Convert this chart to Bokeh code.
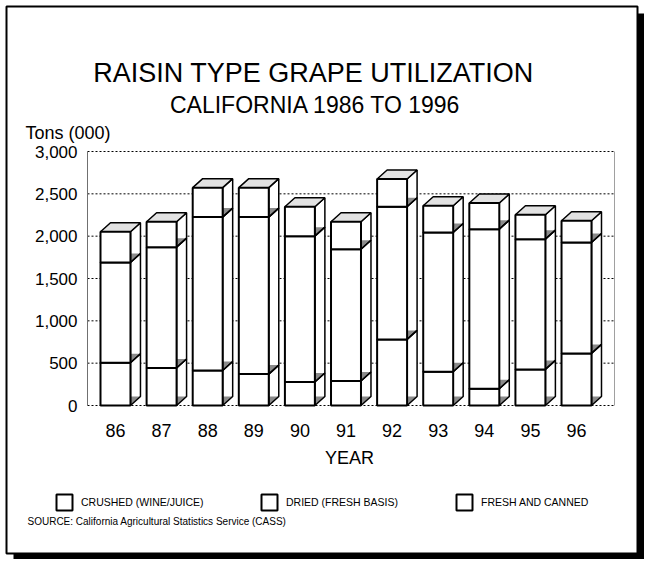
from bokeh.plotting import figure
from bokeh.models import ColumnDataSource, Range1d, Legend, LegendItem
from bokeh.core.properties import value
from bokeh.embed import file_html
from bokeh.resources import INLINE

# ---------------- data (thousand tons) ----------------
years = ["86", "87", "88", "89", "90", "91", "92", "93", "94", "95", "96"]
crushed = [505, 443, 414, 371, 277, 289, 781, 399, 198, 426, 615]
dried = [1184, 1427, 1811, 1854, 1723, 1557, 1567, 1645, 1885, 1539, 1310]
fresh = [363, 300, 348, 348, 348, 324, 327, 316, 308, 288, 257]
series_names = ["CRUSHED (WINE/JUICE)", "DRIED (FRESH BASIS)", "FRESH AND CANNED"]
y_ticks = [0, 500, 1000, 1500, 2000, 2500, 3000]

# ---------------- layout (canvas pixels) ----------------
FONT = "Liberation Sans"
W, H = 644, 559
PL, PR, PT, PB = 87, 614, 151, 405        # plot area inside the canvas
X_LO, X_HI = -0.607, 10.824                # data x shown across the plot area
Y_MAX = 3000
ppx = (PR - PL) / (X_HI - X_LO)
ppy = (PB - PT) / Y_MAX


def X(px):
    return X_LO + (px - PL) / ppx


def Y(py):
    return (PB - py) / ppy


p = figure(width=W, height=H, output_backend="svg", toolbar_location=None,
           x_range=Range1d(X(0), X(W)), y_range=Range1d(Y(H), Y(0)),
           x_axis_location=None, y_axis_location=None, min_border=0)
p.outline_line_color = None
p.background_fill_color = "white"
p.border_fill_color = "white"
p.xgrid.visible = False
p.ygrid.visible = False

# ---------------- grid & plot frame ----------------
p.segment(x0=[X(PL)] * len(y_ticks), x1=[X(PR)] * len(y_ticks), y0=y_ticks, y1=y_ticks,
          line_color="black", line_width=1, line_dash="2 2")
p.segment(x0=[X(PL), X(PR)], x1=[X(PL), X(PR)], y0=[0, 0], y1=[Y_MAX, Y_MAX],
          line_color=["#707070", "#a0a0a0"], line_width=1)

# ---------------- 3-D stacked bars ----------------
half = 0.325
dx, dy = 10 / ppx, 9 / ppy
series = [crushed, dried, fresh]
xi = list(range(len(years)))

side_xs, side_ys, tri_xs, tri_ys = [], [], [], []
top_xs, top_ys = [], []
front_sources = []
base = [0] * len(years)
for vals in series:
    lefts, rights, bots, tops = [], [], [], []
    for i, v in enumerate(vals):
        b, t = base[i], base[i] + v
        xl, xr = i - half, i + half
        lefts.append(xl); rights.append(xr); bots.append(b); tops.append(t)
        side_xs.append([xr, xr + dx, xr + dx, xr])
        side_ys.append([b, b + dy, t + dy, t])
        tri_xs.append([xr, xr + dx, xr])
        tri_ys.append([b, b + dy, b + dy])
        base[i] = t
    front_sources.append(ColumnDataSource(dict(left=lefts, right=rights, bottom=bots, top=tops)))
for i in xi:
    xl, xr, t = i - half, i + half, base[i]
    top_xs.append([xl, xl + dx, xr + dx, xr])
    top_ys.append([t, t + dy, t + dy, t])

p.patches(side_xs, side_ys, fill_color="white", line_color=None)
p.patches(tri_xs, tri_ys, fill_color="#8a8a8a", line_color=None)
p.patches(side_xs, side_ys, fill_color=None, line_color="black", line_width=1.5)
p.patches(top_xs, top_ys, fill_color="#e2e2e2", line_color="black", line_width=1.5)

front_renderers = []
for src in front_sources:
    r = p.quad(left="left", right="right", bottom="bottom", top="top", source=src,
               fill_color="white", line_color="black", line_width=2)
    front_renderers.append(r)

# ---------------- tick labels, axis title ----------------
p.text(x=[X(PL - 10)] * len(y_ticks), y=y_ticks, text=[f"{v:,}" for v in y_ticks],
       text_align="right", text_baseline="middle", text_font=value(FONT),
       text_font_size=value("17px"), text_color="black")
p.text(x=xi, y=[Y(430)] * len(xi), text=years, text_align="center",
       text_baseline="alphabetic", text_font=value(FONT),
       text_font_size=value("18px"), text_color="black")


def lab(text, px, py, size, align="left"):
    p.text(x=[X(px)], y=[Y(py)], text=[text], text_align=align, text_baseline="alphabetic",
           text_font=value(FONT), text_font_size=value(size), text_color="black")


lab("YEAR", 349, 457, "18px", "center")
lab("RAISIN TYPE GRAPE UTILIZATION", 313, 72, "27px", "center")
lab("CALIFORNIA 1986 TO 1996", 315, 104, "23px", "center")
lab("Tons (000)", 25, 132, "18px")
lab("SOURCE:  California Agricultural Statistics Service (CASS)", 27, 521, "10px")

# ---------------- legend ----------------
leg_x = [54, 259, 454]
for k, r in enumerate(front_renderers):
    leg = Legend(items=[LegendItem(label=series_names[k], renderers=[r])],
                 location=(leg_x[k], 47), orientation="horizontal",
                 glyph_width=20, glyph_height=20, label_standoff=7, padding=0, margin=0,
                 spacing=0, border_line_color=None, background_fill_alpha=0,
                 label_text_font=FONT, label_text_font_size="10.5px",
                 label_text_color="black", label_height=20)
    p.add_layout(leg)

# ---------------- outer frame with drop shadow ----------------
p.quad(left=[X(637), X(13)], right=[X(644), X(644)], top=[Y(13), Y(553)],
       bottom=[Y(559), Y(559)], fill_color="black", line_color=None)
p.quad(left=[X(6)], right=[X(637)], top=[Y(6)], bottom=[Y(553)],
       fill_color=None, line_color="black", line_width=2)

open("out.html", "w").write(file_html(p, INLINE))
